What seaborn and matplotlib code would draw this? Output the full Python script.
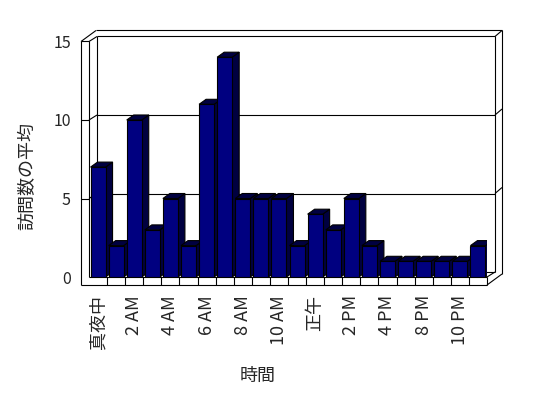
import matplotlib
matplotlib.use("Agg")
import matplotlib.pyplot as plt
import seaborn as sns
import pandas as pd
from matplotlib.patches import Polygon

# ---- data ----
categories = ["真夜中", "1 AM", "2 AM", "3 AM", "4 AM", "5 AM", "6 AM", "7 AM",
              "8 AM", "9 AM", "10 AM", "11 AM", "正午", "1 PM", "2 PM", "3 PM",
              "4 PM", "5 PM", "8 PM", "9 PM", "10 PM", "11 PM"]
values = [7, 2, 10, 3, 5, 2, 11, 14, 5, 5, 5, 2, 4, 3, 5, 2, 1, 1, 1, 1, 1, 2]
y_ticks = [0, 5, 10, 15]
x_label = "時間"
y_label = "訪問数の平均"

sns.set_style("white")
plt.rcParams['font.family'] = ['Noto Sans CJK JP', 'DejaVu Sans']

W, H = 548, 398
L, R, B, T = 89, 487, 277, 41.5
fig = plt.figure(figsize=(W / 100, H / 100), dpi=100)
ax = fig.add_axes([L / W, 1 - B / H, (R - L) / W, (B - T) / H])

df = pd.DataFrame({"cat": categories, "val": values})
sns.barplot(data=df, x="cat", y="val", order=categories, color="#000080",
            saturation=1, width=0.83, edgecolor="black", linewidth=0.8, ax=ax)

n = len(categories)
ymax = y_ticks[-1]
ax.set_xlim(-0.5, n - 0.5)
ax.set_ylim(0, ymax)
for s in ax.spines.values():
    s.set_visible(False)

px_x = (R - L) / n
px_y = (B - T) / ymax


def P(xd, yd, dx=0.0, dy_down=0.0):
    return (xd + dx / px_x, yd - dy_down / px_y)


lk = dict(color="black", lw=0.8, clip_on=False, zorder=1, solid_capstyle="butt")


def line(a, b, z=1):
    ax.plot([a[0], b[0]], [a[1], b[1]], **{**lk, "zorder": z})


x0, x1 = -0.5, n - 0.5
FL = 8  # floor thickness px
# left wall
line(P(x0, ymax, -8, 0), P(x0, 0, -8, FL))
line(P(x0, ymax), P(x0, 0))
line(P(x0, ymax, -8, 0), P(x0, ymax))
line(P(x0, ymax), P(x0, ymax, 8, -5))
line(P(x0, ymax, -8, 0), P(x0, ymax, 7, -11))
line(P(x0, ymax, 7, -11), P(x1, ymax, 15, -11))
line(P(x0, ymax, 8, -5), P(x1, ymax, 8, -5))
line(P(x1, ymax, 8, -5), P(x1, ymax, 15, -11))
line(P(x0, ymax, 8, -5), P(x0, 0, 8, -5), z=0.5)
# right end of back wall
line(P(x1, ymax, 8, -5), P(x1, 0, 8, -5), z=0.5)
line(P(x1, ymax, 15, -11), P(x1, 0, 15, -3))
# gridlines
for v in y_ticks[1:-1]:
    line(P(x0, v, -8, 0), P(x0, v))
    line(P(x0, v), P(x0, v, 8, -5))
    line(P(x0, v, 8, -5), P(x1, v, 8, -5), z=0.5)
    line(P(x1, v, 8, -5), P(x1, v, 15, -11))
# floor
line(P(x0, 0, -8, FL), P(x1, 0, 0, FL))
line(P(x0, 0), P(x1, 0))
line(P(x1, 0), P(x1, 0, 0, FL))
line(P(x1, 0), P(x1, 0, 8, -5), z=0.5)
line(P(x1, 0, 0, FL), P(x1, 0, 15, -3))
line(P(x0, 0, 8, -5), P(x1, 0, 8, -5), z=0.5)
for i in range(n - 1):
    line(P(i + 0.5, 0), P(i + 0.5, 0, 0, FL))

# 3D faces of bars
bdx, bdy = 7, 5
for i, p in enumerate(ax.patches):
    x, w, h = p.get_x(), p.get_width(), p.get_height()
    p.set_zorder(3 + 2 * i)
    side = [P(x + w, 0), P(x + w, h), P(x + w, h, bdx, -bdy), P(x + w, 0, bdx, -bdy)]
    top = [P(x, h), P(x + w, h), P(x + w, h, bdx, -bdy), P(x, h, bdx, -bdy)]
    for poly in (side, top):
        ax.add_patch(Polygon(poly, closed=True, facecolor="#000040",
                             edgecolor="black", lw=0.8, zorder=2.5 + 2 * i))

ax.set_xticks(range(0, n, 2))
ax.set_xticklabels(categories[::2], rotation=90, fontsize=13)
ax.set_yticks(y_ticks)
ax.set_yticklabels([str(v) for v in y_ticks], fontsize=11.5)
ax.tick_params(axis="x", length=0, pad=13)
ax.tick_params(axis="y", length=0, pad=13)
ax.set_xlabel("")
ax.set_ylabel("")

fig.text(258 / W, 1 - 376 / H, x_label, ha="center", va="center", fontsize=13)
fig.text(27 / W, 1 - 176 / H, y_label, ha="center", va="center", rotation=90, fontsize=13)

fig.savefig("out.png", dpi=100)
